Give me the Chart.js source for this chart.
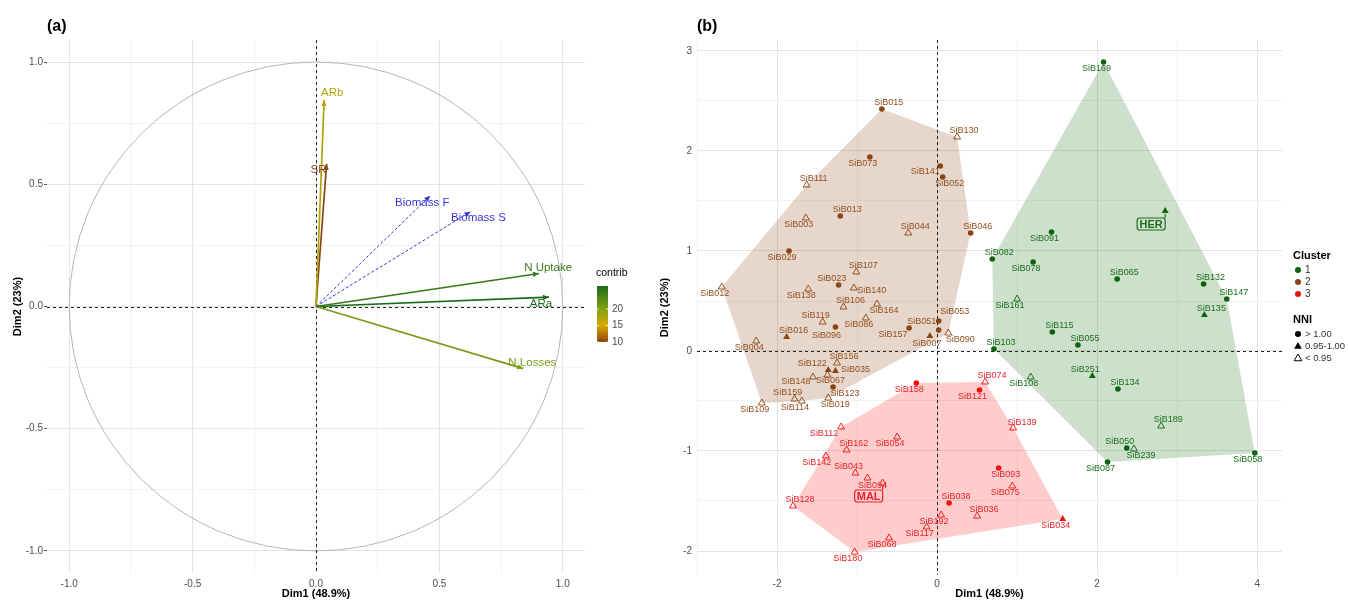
<!DOCTYPE html>
<html>
<head>
<meta charset="utf-8">
<script src="https://cdn.jsdelivr.net/npm/chart.js@4.4.1/dist/chart.umd.min.js"></script>
<style>
  body { margin: 0; background: #fff; width: 1348px; height: 601px; overflow: hidden; position: relative; }
  canvas { position: absolute; top: 0; }
  #chartA { left: 0; }
  #chartB { left: 640px; }
</style>
</head>
<body>
<canvas id="chartA" width="640" height="601"></canvas>
<canvas id="chartB" width="708" height="601"></canvas>
<script>
// ---- (a) variables: correlation circle ----
const varNames = ['ARb', 'SR', 'Biomass F', 'Biomass S', 'N Uptake', 'ARa', 'N Losses'];
const varDim1 = [0.033, 0.043, 0.463, 0.626, 0.904, 0.944, 0.840];
const varDim2 = [0.845, 0.584, 0.453, 0.388, 0.135, 0.038, -0.254];
const varContrib = [17.5, 10, null, null, 25, 27, 20.5]; // null = supplementary
const contribTicks = [10, 15, 20];

// ---- (b) genotypes: individuals map ----
const genotypes = [
  'SiB015','SiB130','SiB073','SiB141','SiB052','SiB111','SiB013','SiB003','SiB044','SiB046',
  'SiB029','SiB107','SiB023','SiB012','SiB138','SiB140','SiB106','SiB164','SiB119','SiB086',
  'SiB096','SiB016','SiB157','SiB053','SiB051','SiB007','SiB090','SiB004','SiB156','SiB122',
  'SiB035','SiB148','SiB067','SiB123','SiB159','SiB114','SiB019','SiB109',
  'SiB158','SiB074','SiB121','SiB139','SiB112','SiB162','SiB054','SiB142','SiB043','SiB094',
  'MAL','SiB128','SiB038','SiB036','SiB192','SiB117','SiB068','SiB180','SiB093','SiB075','SiB034',
  'SiB169','HER','SiB091','SiB078','SiB065','SiB132','SiB147','SiB082','SiB161','SiB103',
  'SiB135','SiB115','SiB055','SiB108','SiB251','SiB134','SiB189','SiB050','SiB239','SiB087','SiB058'
];
const dim1 = [
  -0.69, 0.25, -0.84, 0.04, 0.07, -1.63, -1.21, -1.64, -0.36, 0.42,
  -1.85, -1.01, -1.23, -2.69, -1.61, -1.04, -1.17, -0.75, -1.43, -0.89,
  -1.27, -1.88, -0.35, 0.02, 0.02, -0.09, 0.14, -2.26, -1.25, -1.36,
  -1.27, -1.55, -1.37, -1.30, -1.78, -1.69, -1.36, -2.19,
  -0.26, 0.60, 0.53, 0.95, -1.20, -1.13, -0.50, -1.39, -1.02, -0.87,
  -0.68, -1.80, 0.15, 0.50, 0.05, -0.13, -0.60, -1.03, 0.77, 0.94, 1.57,
  2.08, 2.85, 1.43, 1.20, 2.25, 3.33, 3.62, 0.69, 1.00, 0.71,
  3.34, 1.44, 1.76, 1.17, 1.94, 2.26, 2.80, 2.37, 2.46, 2.13, 3.97
];
const dim2 = [
  2.42, 2.14, 1.94, 1.85, 1.74, 1.66, 1.35, 1.33, 1.18, 1.18,
  1.00, 0.79, 0.66, 0.64, 0.62, 0.63, 0.44, 0.47, 0.29, 0.33,
  0.24, 0.14, 0.23, 0.30, 0.21, 0.15, 0.18, 0.10, -0.12, -0.19,
  -0.20, -0.26, -0.24, -0.36, -0.48, -0.50, -0.47, -0.52,
  -0.32, -0.31, -0.39, -0.77, -0.76, -0.99, -0.86, -1.05, -1.22, -1.27,
  -1.32, -1.55, -1.52, -1.65, -1.64, -1.76, -1.87, -2.01, -1.17, -1.35, -1.68,
  2.89, 1.40, 1.19, 0.89, 0.72, 0.67, 0.52, 0.92, 0.52, 0.02,
  0.36, 0.19, 0.06, -0.26, -0.25, -0.38, -0.75, -0.97, -0.98, -1.11, -1.02
];
const cluster = [
  2,2,2,2,2,2,2,2,2,2, 2,2,2,2,2,2,2,2,2,2, 2,2,2,2,2,2,2,2,2,2, 2,2,2,2,2,2,2,2,
  3,3,3,3,3,3,3,3,3,3, 3,3,3,3,3,3,3,3,3,3,3,
  1,1,1,1,1,1,1,1,1,1, 1,1,1,1,1,1,1,1,1,1,1
];
// NNI class: 'hi' > 1.00, 'mid' 0.95-1.00, 'lo' < 0.95
const nni = [
  'hi','lo','hi','hi','hi','lo','hi','lo','lo','hi',
  'hi','lo','hi','lo','lo','lo','lo','lo','lo','lo',
  'hi','mid','hi','hi','hi','mid','lo','lo','lo','mid',
  'mid','lo','lo','hi','lo','lo','lo','lo',
  'hi','lo','hi','lo','lo','lo','lo','lo','lo','lo',
  'lo','lo','hi','lo','lo','lo','lo','lo','hi','lo','mid',
  'hi','mid','hi','hi','hi','hi','hi','hi','lo','hi',
  'mid','hi','hi','lo','mid','hi','lo','hi','lo','hi','hi'
];
const clusterLevels = [1, 2, 3];
const nniLevels = ['hi', 'mid', 'lo'];
const nniLabels = ['> 1.00', '0.95-1.00', '< 0.95'];
const boxedLabels = ['HER', 'MAL'];

// ---- styling ----
const FONT = '"Liberation Sans", Arial, Helvetica, sans-serif';
Chart.defaults.font.family = FONT;
Chart.defaults.color = '#4d4d4d';

const clusterColor = {1: '#0b650b', 2: '#8b4513', 3: '#f20f0f'};
const labelColor = {1: '#1d6e1d', 2: '#93501f', 3: '#e8232a'};
const hullFill = {1: 'rgba(0,100,0,0.2)', 2: 'rgba(139,69,19,0.22)', 3: 'rgba(255,0,0,0.2)'};
const suppColor = '#3636d6';
const contribStops = [[10, [139, 69, 19]], [15, [217, 168, 0]], [20, [130, 160, 19]], [27, [26, 107, 26]]];

function contribColor(v) {
  if (v == null) return suppColor;
  let s = contribStops;
  if (v <= s[0][0]) return 'rgb(' + s[0][1].join(',') + ')';
  for (let k = 1; k < s.length; k++) {
    if (v <= s[k][0]) {
      const t = (v - s[k - 1][0]) / (s[k][0] - s[k - 1][0]);
      const c = s[k - 1][1].map((a, j) => Math.round(a + (s[k][1][j] - a) * t));
      return 'rgb(' + c.join(',') + ')';
    }
  }
  return 'rgb(' + s[s.length - 1][1].join(',') + ')';
}

// label offsets (px) relative to each point
const nudgeDirs = {ne: [7, -6], nw: [-7, -6], se: [7, 7], sw: [-7, 7]};
const labelNudge = {
  SiB015: 'ne', SiB130: 'ne', SiB073: 'sw', SiB141: [-15, 6], SiB052: 'se', SiB111: 'ne',
  SiB013: 'ne', SiB003: 'sw', SiB044: 'ne', SiB046: 'ne', SiB029: 'sw', SiB107: 'ne',
  SiB023: 'nw', SiB012: 'sw', SiB138: 'sw', SiB140: [18, 3], SiB106: 'ne', SiB164: 'se',
  SiB119: 'nw', SiB086: 'sw', SiB096: [-9, 9], SiB016: 'ne', SiB157: [-16, 7],
  SiB053: [16, -9], SiB051: [-17, -8], SiB007: [-3, 8], SiB090: [12, 7], SiB004: 'sw',
  SiB156: 'ne', SiB122: [-16, -6], SiB035: [20, -1], SiB148: [-17, 5], SiB067: [3, 6],
  SiB123: [12, 7], SiB159: 'nw', SiB114: 'sw', SiB019: 'se', SiB109: 'sw',
  SiB158: 'sw', SiB074: 'ne', SiB121: 'sw', SiB139: [9, -5], SiB112: [-17, 7], SiB162: 'ne',
  SiB054: 'sw', SiB142: [-9, 7], SiB043: 'nw', SiB094: [5, 8], SiB128: 'ne', SiB038: 'ne',
  SiB036: 'ne', SiB192: 'sw', SiB117: 'sw', SiB068: 'sw', SiB180: 'sw', SiB093: 'se',
  SiB075: 'sw', SiB034: 'sw',
  SiB169: 'sw', SiB091: 'sw', SiB078: 'sw', SiB065: 'ne', SiB132: 'ne', SiB147: 'ne',
  SiB082: 'ne', SiB161: 'sw', SiB103: 'ne', SiB135: 'ne', SiB115: 'ne', SiB055: 'ne',
  SiB108: 'sw', SiB251: 'nw', SiB134: 'ne', SiB189: 'ne', SiB050: 'nw', SiB239: 'se',
  SiB087: 'sw', SiB058: 'sw'
};
const varNudge = {
  'ARb': [8, -7], 'SR': [-8, 6], 'Biomass F': [-8, 7], 'Biomass S': [8, 6],
  'N Uptake': [9, -6], 'ARa': [-8, 7], 'N Losses': [9, -6]
};

function nudgeOf(name) {
  const n = labelNudge[name] || 'sw';
  return typeof n === 'string' ? nudgeDirs[n] : n;
}

function convexHull(points) {
  const p = points.slice().sort((a, b) => a[0] - b[0] || a[1] - b[1]);
  const cross = (o, a, b) => (a[0] - o[0]) * (b[1] - o[1]) - (a[1] - o[1]) * (b[0] - o[0]);
  const lower = [], upper = [];
  for (const q of p) {
    while (lower.length >= 2 && cross(lower[lower.length - 2], lower[lower.length - 1], q) <= 0) lower.pop();
    lower.push(q);
  }
  for (const q of p.slice().reverse()) {
    while (upper.length >= 2 && cross(upper[upper.length - 2], upper[upper.length - 1], q) <= 0) upper.pop();
    upper.push(q);
  }
  return lower.slice(0, -1).concat(upper.slice(0, -1));
}

function marker(ctx, style, x, y, r, color, filled) {
  ctx.beginPath();
  if (style === 'circle') {
    ctx.arc(x, y, r, 0, Math.PI * 2);
  } else {
    ctx.moveTo(x, y - r);
    ctx.lineTo(x + r * 0.866, y + r * 0.5);
    ctx.lineTo(x - r * 0.866, y + r * 0.5);
    ctx.closePath();
  }
  if (filled) { ctx.fillStyle = color; ctx.fill(); }
  else { ctx.strokeStyle = color; ctx.lineWidth = 1; ctx.stroke(); }
}

function zeroLines(chart) {
  const {ctx, chartArea: a, scales: {x, y}} = chart;
  const x0 = Math.round(x.getPixelForValue(0)) + 0.5;
  const y0 = Math.round(y.getPixelForValue(0)) + 0.5;
  ctx.save();
  ctx.strokeStyle = '#222';
  ctx.lineWidth = 1;
  ctx.setLineDash([3, 3]);
  ctx.beginPath();
  ctx.moveTo(x0, a.top); ctx.lineTo(x0, a.bottom);
  ctx.moveTo(a.left, y0); ctx.lineTo(a.right, y0);
  ctx.stroke();
  ctx.restore();
}

function axis(title, min, max, step, isMajor, fmt, o) {
  return {
    type: 'linear', min: min, max: max,
    ticks: {
      stepSize: step, includeBounds: false, autoSkip: false, maxRotation: 0,
      color: '#4d4d4d', font: {size: 10}, padding: o.pad,
      callback: v => isMajor(v) ? fmt(v) : ''
    },
    grid: {
      color: c => (c.tick && isMajor(c.tick.value)) ? '#e4e4e4' : '#f2f2f2',
      lineWidth: 1, tickLength: 3,
      tickColor: c => (o.ticks && c.tick && isMajor(c.tick.value)) ? '#555' : 'rgba(0,0,0,0)'
    },
    border: {display: false},
    title: {display: true, text: title, color: '#000', font: {size: 11, weight: 'bold'}, padding: o.titlePad},
    afterFit: s => { if (o.w) s.width = o.w; if (o.h) s.height = o.h; }
  };
}

// ---------------- panel (a) ----------------
const panelA = {
  id: 'panelA',
  beforeDatasetsDraw(chart) {
    const {ctx, scales: {x, y}} = chart;
    const cx = x.getPixelForValue(0), cy = y.getPixelForValue(0);
    ctx.save();
    ctx.strokeStyle = '#b5b5b5';
    ctx.lineWidth = 1;
    ctx.beginPath();
    ctx.ellipse(cx, cy, x.getPixelForValue(1) - cx, cy - y.getPixelForValue(1), 0, 0, Math.PI * 2);
    ctx.stroke();
    ctx.restore();
    zeroLines(chart);
  },
  afterDatasetsDraw(chart) {
    const {ctx, scales: {x, y}} = chart;
    const cx = x.getPixelForValue(0), cy = y.getPixelForValue(0);
    ctx.save();
    varNames.forEach((name, i) => {
      const px = x.getPixelForValue(varDim1[i]), py = y.getPixelForValue(varDim2[i]);
      const col = contribColor(varContrib[i]);
      const ang = Math.atan2(py - cy, px - cx);
      const L = 6, W = 2.6;
      ctx.fillStyle = col;
      ctx.beginPath();
      ctx.moveTo(px, py);
      ctx.lineTo(px - L * Math.cos(ang) + W * Math.sin(ang), py - L * Math.sin(ang) - W * Math.cos(ang));
      ctx.lineTo(px - L * Math.cos(ang) - W * Math.sin(ang), py - L * Math.sin(ang) + W * Math.cos(ang));
      ctx.closePath();
      ctx.fill();
      const n = varNudge[name];
      ctx.font = '11.5px ' + FONT;
      ctx.textAlign = 'center';
      ctx.textBaseline = 'middle';
      ctx.fillText(name, px + n[0], py + n[1]);
    });
    ctx.restore();
  },
  afterDraw(chart) {
    const {ctx} = chart;
    ctx.save();
    ctx.fillStyle = '#000';
    ctx.font = 'bold 16px ' + FONT;
    ctx.textAlign = 'left';
    ctx.textBaseline = 'middle';
    ctx.fillText('(a)', 47, 27);
    // contrib colour bar
    const vals = varContrib.filter(v => v != null);
    const lo = Math.min(...vals), hi = Math.max(...vals);
    const bx = 597, bw = 11, bTop = 286, bBot = 342;
    const yOf = v => bBot - (v - lo) / (hi - lo) * (bBot - bTop);
    const g = ctx.createLinearGradient(0, bBot, 0, bTop);
    for (let k = 0; k <= 20; k++) {
      const v = lo + (hi - lo) * k / 20;
      g.addColorStop(k / 20, contribColor(v));
    }
    ctx.fillStyle = g;
    ctx.fillRect(bx, bTop, bw, bBot - bTop);
    ctx.font = '10.5px ' + FONT;
    ctx.fillStyle = '#000';
    ctx.fillText('contrib', 596, 273);
    ctx.font = '10px ' + FONT;
    ctx.fillStyle = '#4d4d4d';
    contribTicks.forEach(t => {
      const ty = yOf(t);
      ctx.strokeStyle = 'rgba(255,255,255,0.8)';
      ctx.beginPath();
      ctx.moveTo(bx, ty); ctx.lineTo(bx + 2, ty);
      ctx.moveTo(bx + bw - 2, ty); ctx.lineTo(bx + bw, ty);
      ctx.stroke();
      ctx.fillText(String(t), 612, ty);
    });
    ctx.restore();
  }
};

const isHalf = v => Math.abs(v * 2 - Math.round(v * 2)) < 1e-6;
new Chart(document.getElementById('chartA'), {
  type: 'scatter',
  data: {
    datasets: varNames.map((name, i) => ({
      label: name,
      data: [{x: 0, y: 0}, {x: varDim1[i], y: varDim2[i]}],
      showLine: true,
      borderColor: contribColor(varContrib[i]),
      borderWidth: varContrib[i] == null ? 1 : 1.7,
      borderDash: varContrib[i] == null ? [3, 2] : [],
      pointRadius: 0,
      pointHoverRadius: 0
    }))
  },
  options: {
    responsive: false,
    animation: false,
    devicePixelRatio: 1,
    layout: {padding: {left: 0, top: 40, right: 55, bottom: 0}},
    plugins: {legend: {display: false}, tooltip: {enabled: false}},
    scales: {
      x: axis('Dim1 (48.9%)', -1.09, 1.09, 0.25, isHalf, v => v.toFixed(1),
        {pad: 2, h: 28, titlePad: {top: 0, bottom: 0}}),
      y: axis('Dim2 (23%)', -1.09, 1.09, 0.25, isHalf, v => v.toFixed(1),
        {pad: 1, w: 47, ticks: true, titlePad: {top: 11, bottom: 0}})
    }
  },
  plugins: [panelA]
});

// ---------------- panel (b) ----------------
const panelB = {
  id: 'panelB',
  beforeDatasetsDraw(chart) {
    const {ctx, chartArea: a, scales: {x, y}} = chart;
    ctx.save();
    ctx.beginPath();
    ctx.rect(a.left, a.top, a.right - a.left, a.bottom - a.top);
    ctx.clip();
    [2, 3, 1].forEach(c => {
      const pts = genotypes.map((g, i) => i).filter(i => cluster[i] === c)
        .map(i => [x.getPixelForValue(dim1[i]), y.getPixelForValue(dim2[i])]);
      const hull = convexHull(pts);
      ctx.beginPath();
      hull.forEach((p, k) => k ? ctx.lineTo(p[0], p[1]) : ctx.moveTo(p[0], p[1]));
      ctx.closePath();
      ctx.fillStyle = hullFill[c];
      ctx.fill();
    });
    ctx.restore();
    zeroLines(chart);
  },
  afterDatasetsDraw(chart) {
    const {ctx, scales: {x, y}} = chart;
    ctx.save();
    ctx.textAlign = 'center';
    ctx.textBaseline = 'middle';
    genotypes.forEach((name, i) => {
      const px = x.getPixelForValue(dim1[i]), py = y.getPixelForValue(dim2[i]);
      const col = labelColor[cluster[i]];
      if (boxedLabels.includes(name)) {
        const bw = 28, bh = 12;
        const bx = px - bw, by = py + 7;
        ctx.strokeStyle = col;
        ctx.lineWidth = 1.2;
        ctx.beginPath();
        ctx.moveTo(px, py + 3); ctx.lineTo(px, by);
        ctx.stroke();
        ctx.beginPath();
        ctx.roundRect(bx, by, bw, bh, 2.5);
        ctx.stroke();
        ctx.fillStyle = col;
        ctx.font = 'bold 11px ' + FONT;
        ctx.fillText(name, bx + bw / 2, by + bh / 2 + 0.5);
        return;
      }
      const n = nudgeOf(name);
      ctx.fillStyle = col;
      ctx.font = '9px ' + FONT;
      ctx.fillText(name, px + n[0], py + n[1]);
    });
    ctx.restore();
  },
  afterDraw(chart) {
    const {ctx} = chart;
    ctx.save();
    ctx.textAlign = 'left';
    ctx.textBaseline = 'middle';
    ctx.fillStyle = '#000';
    ctx.font = 'bold 16px ' + FONT;
    ctx.fillText('(b)', 57, 27);
    // legends
    ctx.font = 'bold 11px ' + FONT;
    ctx.fillText('Cluster', 653, 256);
    clusterLevels.forEach((c, k) => {
      const yy = 270 + 12 * k;
      marker(ctx, 'circle', 658, yy, 3, clusterColor[c], true);
      ctx.fillStyle = '#333';
      ctx.font = '10px ' + FONT;
      ctx.fillText(String(c), 665, yy);
    });
    ctx.fillStyle = '#000';
    ctx.font = 'bold 11px ' + FONT;
    ctx.fillText('NNI', 653, 320);
    nniLevels.forEach((lv, k) => {
      const yy = 334 + 12 * k;
      if (lv === 'hi') marker(ctx, 'circle', 658, yy, 3, '#000', true);
      else marker(ctx, 'triangle', 658, yy + 0.5, 4.5, '#000', lv === 'mid');
      ctx.fillStyle = '#333';
      ctx.font = '9.5px ' + FONT;
      ctx.fillText(nniLabels[k], 665, yy);
    });
    ctx.restore();
  }
};

const pointSets = [];
clusterLevels.forEach(c => {
  nniLevels.forEach(lv => {
    const idx = genotypes.map((g, i) => i).filter(i => cluster[i] === c && nni[i] === lv);
    if (!idx.length) return;
    const col = clusterColor[c];
    pointSets.push({
      label: 'Cluster ' + c + ' ' + lv,
      data: idx.map(i => ({x: dim1[i], y: dim2[i]})),
      pointStyle: lv === 'hi' ? 'circle' : 'triangle',
      pointRadius: lv === 'hi' ? 2.8 : 4,
      pointHoverRadius: lv === 'hi' ? 2.8 : 4,
      backgroundColor: lv === 'lo' ? 'rgba(0,0,0,0)' : col,
      borderColor: col,
      borderWidth: lv === 'lo' ? 0.9 : 0
    });
  });
});

const isInt = v => Math.abs(v - Math.round(v)) < 1e-6;
const isEven = v => isInt(v) && Math.round(v) % 2 === 0;
new Chart(document.getElementById('chartB'), {
  type: 'scatter',
  data: {datasets: pointSets},
  options: {
    responsive: false,
    animation: false,
    devicePixelRatio: 1,
    layout: {padding: {left: 0, top: 40, right: 66, bottom: 0}},
    plugins: {legend: {display: false}, tooltip: {enabled: false}},
    scales: {
      x: axis('Dim1 (48.9%)', -3.0, 4.31, 1, isEven, v => String(Math.round(v)),
        {pad: 0, h: 26, titlePad: {top: 0, bottom: 0}}),
      y: axis('Dim2 (23%)', -2.24, 3.11, 0.5, isInt, v => String(Math.round(v)),
        {pad: 2, w: 57, titlePad: {top: 18, bottom: 0}})
    }
  },
  plugins: [panelB]
});
</script>
</body>
</html>
